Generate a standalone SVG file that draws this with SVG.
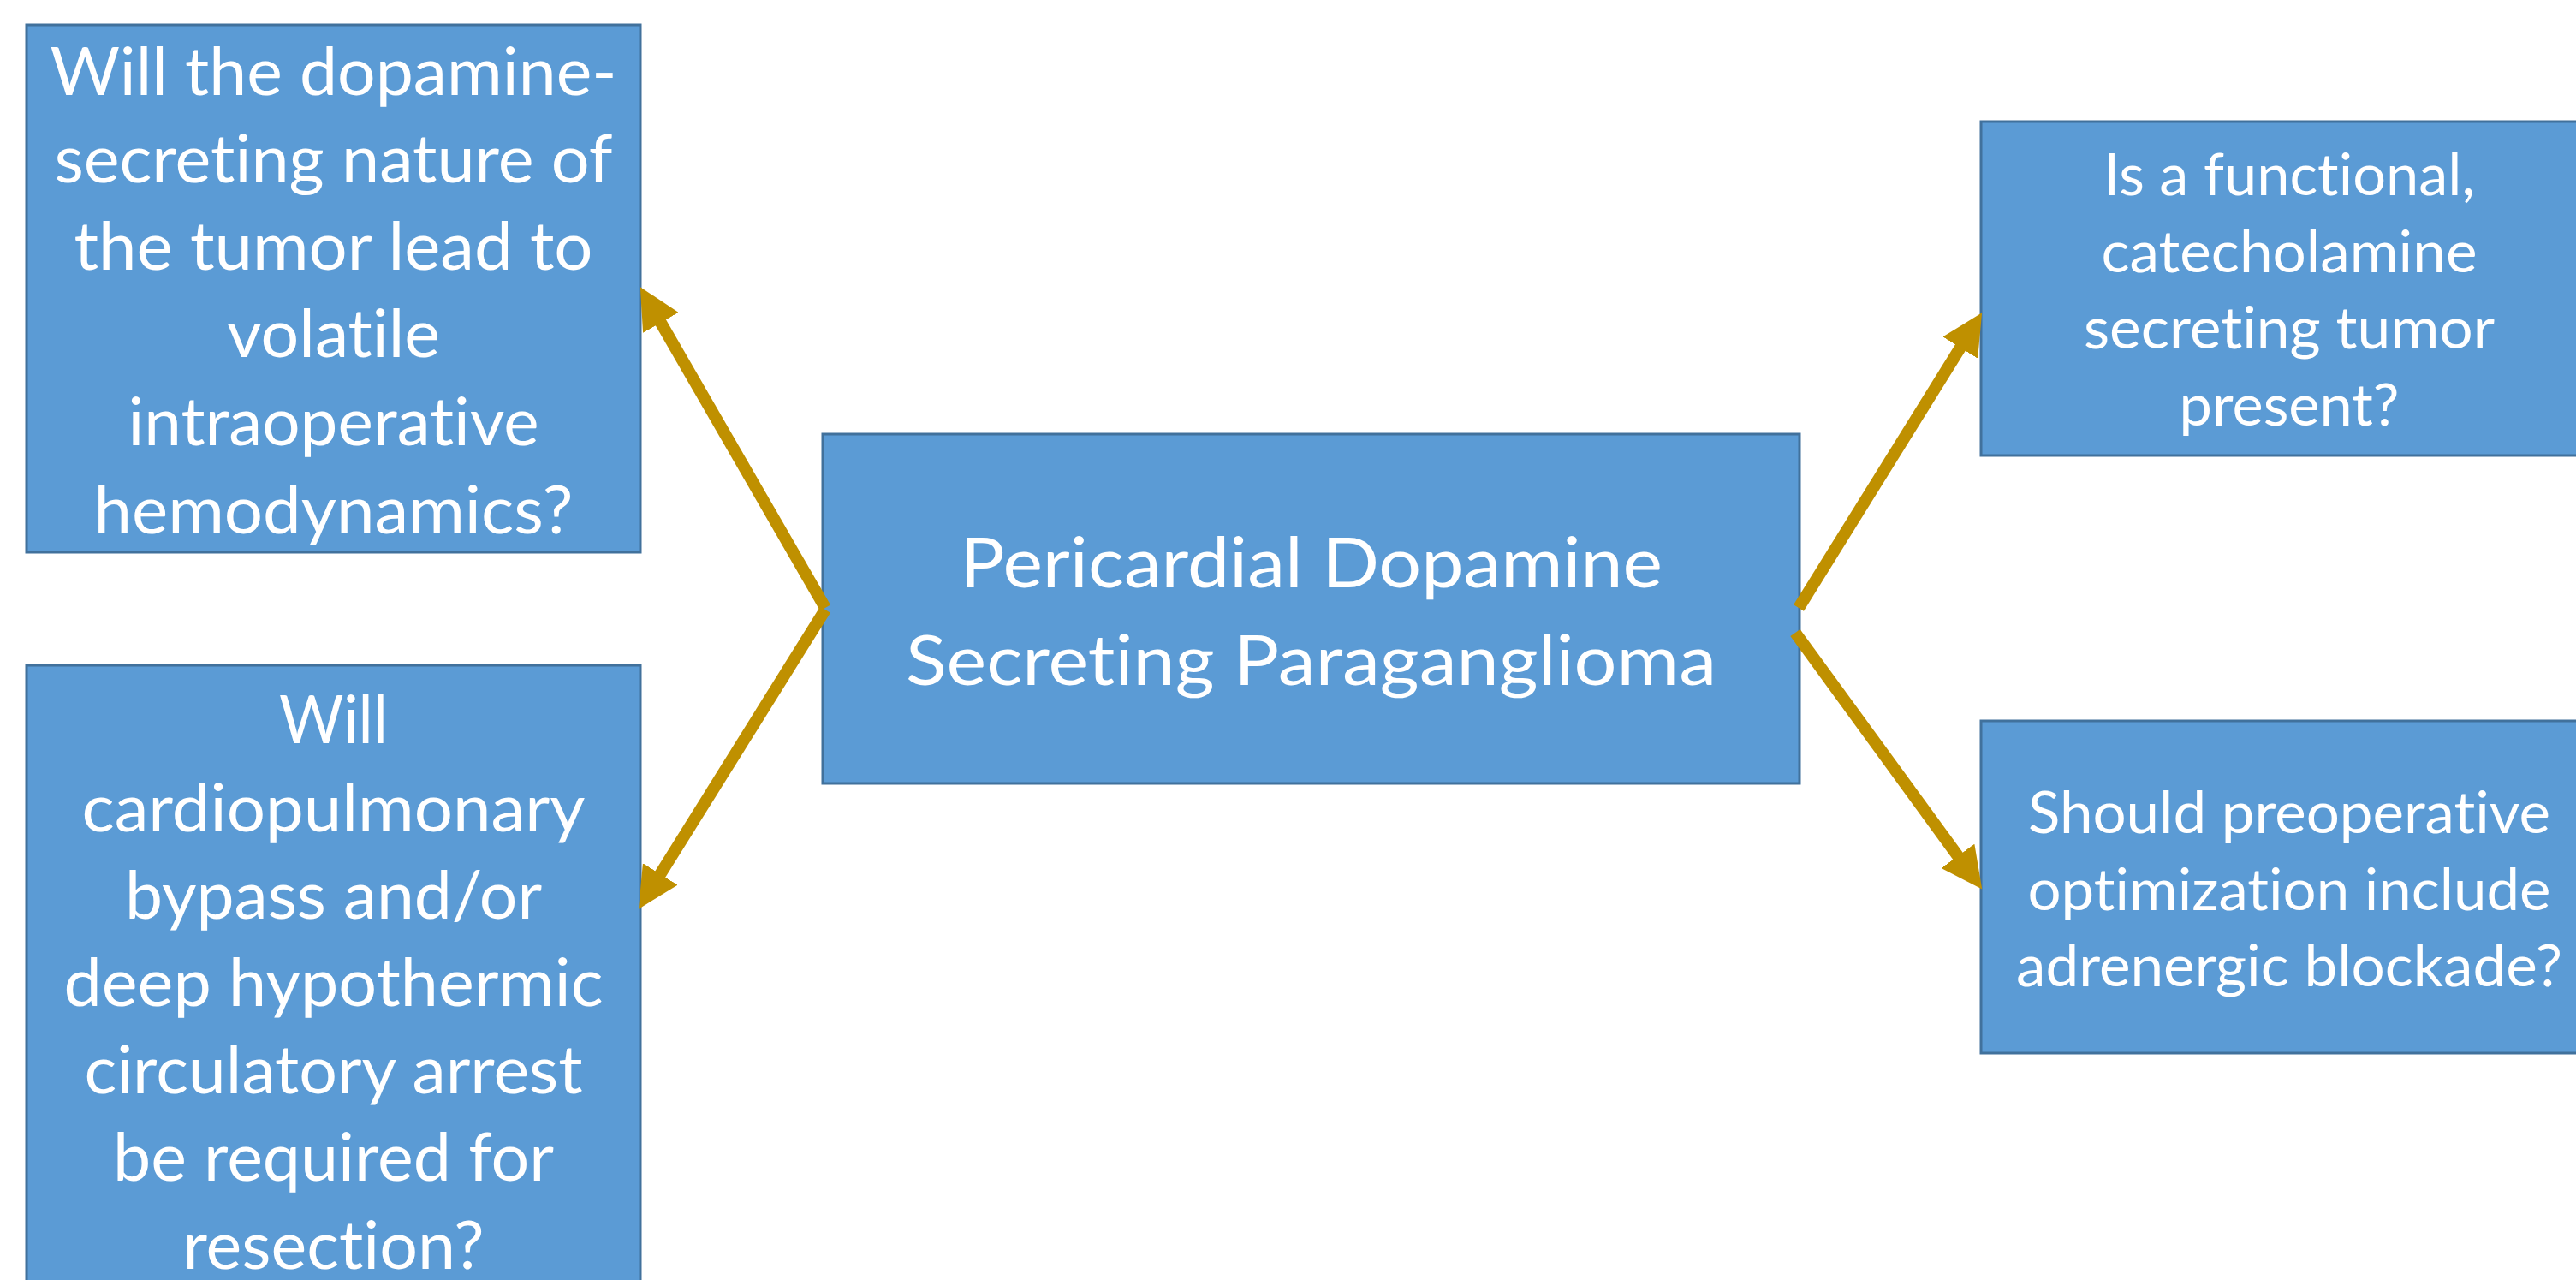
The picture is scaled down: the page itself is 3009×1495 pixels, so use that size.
<svg xmlns="http://www.w3.org/2000/svg" width="3009" height="1495" viewBox="0 0 3009 1495">
<style>
.box{fill:#5B9BD5;stroke:#41719C;stroke-width:3}
.t{font-family:Lato,"Open Sans","Liberation Sans",sans-serif;fill:#FFFFFF;text-anchor:middle;font-variant-ligatures:none;font-feature-settings:"liga" 0,"clig" 0}
.s{font-size:77px}
.c{font-size:82px}
.r{font-size:67px}
.con{stroke:#BF9000;stroke-width:14;fill:none;marker-end:url(#ah)}
</style>
<defs>
<marker id="ah" viewBox="0 0 48 48" refX="22" refY="24" markerWidth="48" markerHeight="48" orient="auto" markerUnits="userSpaceOnUse">
<path d="M0,0 L48,24 L0,48 z" fill="#BF9000"/>
</marker>
</defs>
<rect width="3009" height="1495" fill="#FFFFFF"/>
<g id="node-left-top">
<rect class="box" x="31" y="29" width="717" height="616"/>
<text class="t s" x="389.5" y="111" textLength="662" lengthAdjust="spacingAndGlyphs">Will the dopamine-</text>
<text class="t s" x="389.5" y="213" textLength="652" lengthAdjust="spacingAndGlyphs">secreting nature of</text>
<text class="t s" x="389.5" y="315" textLength="606" lengthAdjust="spacingAndGlyphs">the tumor lead to</text>
<text class="t s" x="389.5" y="417" textLength="249" lengthAdjust="spacingAndGlyphs">volatile</text>
<text class="t s" x="389.5" y="520" textLength="480" lengthAdjust="spacingAndGlyphs">intraoperative</text>
<text class="t s" x="389.5" y="623" textLength="560" lengthAdjust="spacingAndGlyphs">hemodynamics?</text>
</g>
<g id="node-left-bottom">
<rect class="box" x="31" y="777" width="717" height="740"/>
<text class="t s" x="389.5" y="868" textLength="127" lengthAdjust="spacingAndGlyphs">Will</text>
<text class="t s" x="389.5" y="971" textLength="588" lengthAdjust="spacingAndGlyphs">cardiopulmonary</text>
<text class="t s" x="389.5" y="1073" textLength="487" lengthAdjust="spacingAndGlyphs">bypass and/or</text>
<text class="t s" x="389.5" y="1175" textLength="630" lengthAdjust="spacingAndGlyphs">deep hypothermic</text>
<text class="t s" x="389.5" y="1277" textLength="582" lengthAdjust="spacingAndGlyphs">circulatory arrest</text>
<text class="t s" x="389.5" y="1379" textLength="515" lengthAdjust="spacingAndGlyphs">be required for</text>
<text class="t s" x="389.5" y="1482" textLength="352" lengthAdjust="spacingAndGlyphs">resection?</text>
</g>
<g id="node-center">
<rect class="box" x="961" y="507" width="1141" height="408"/>
<text class="t c" x="1531.5" y="686" textLength="821" lengthAdjust="spacingAndGlyphs">Pericardial Dopamine</text>
<text class="t c" x="1531.5" y="800" textLength="947" lengthAdjust="spacingAndGlyphs">Secreting Paraganglioma</text>
</g>
<g id="node-right-top">
<rect class="box" x="2314" y="142" width="740" height="390"/>
<text class="t r" x="2674" y="228" textLength="434" lengthAdjust="spacingAndGlyphs">Is a functional,</text>
<text class="t r" x="2674" y="318" textLength="439" lengthAdjust="spacingAndGlyphs">catecholamine</text>
<text class="t r" x="2674" y="407" textLength="480" lengthAdjust="spacingAndGlyphs">secreting tumor</text>
<text class="t r" x="2674" y="497" textLength="257" lengthAdjust="spacingAndGlyphs">present?</text>
</g>
<g id="node-right-bottom">
<rect class="box" x="2314" y="842" width="740" height="388"/>
<text class="t r" x="2674" y="973" textLength="610" lengthAdjust="spacingAndGlyphs">Should preoperative</text>
<text class="t r" x="2674" y="1063" textLength="611" lengthAdjust="spacingAndGlyphs">optimization include</text>
<text class="t r" x="2674" y="1152" textLength="638" lengthAdjust="spacingAndGlyphs">adrenergic blockade?</text>
</g>
<g id="connectors">
<line class="con" x1="964" y1="710" x2="760.9" y2="357.8"/>
<line class="con" x1="964" y1="712" x2="759.7" y2="1039.6"/>
<line class="con" x1="2101" y1="710" x2="2301.4" y2="387.4"/>
<line class="con" x1="2097" y1="739" x2="2299.9" y2="1017.6"/>
</g>
</svg>
